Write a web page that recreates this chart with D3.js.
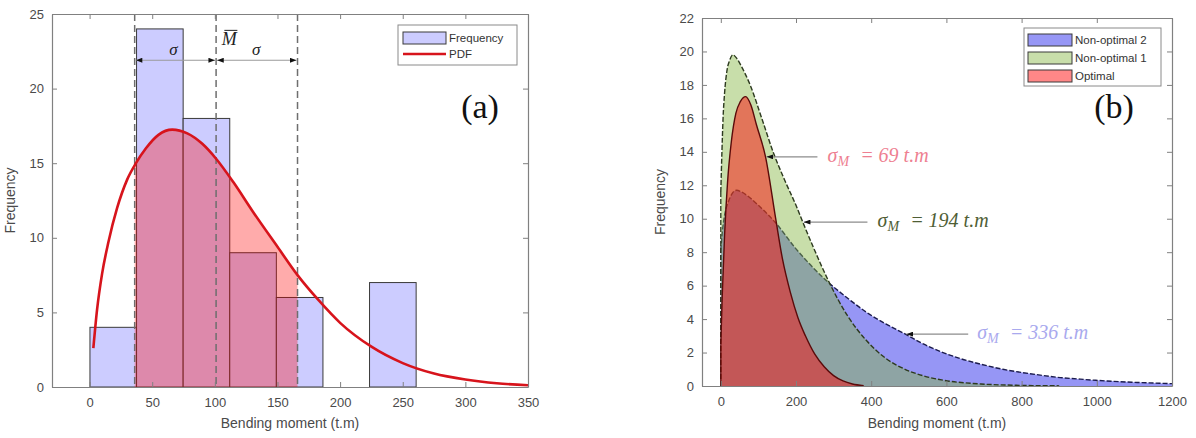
<!DOCTYPE html>
<html>
<head>
<meta charset="utf-8">
<script src="https://cdn.jsdelivr.net/npm/d3@7"></script>
<style>
  body { margin: 0; background: #fff; }
  text { font-family: "Liberation Sans", Arial, sans-serif; }
  text.serif { font-family: "Liberation Serif", "DejaVu Serif", serif; }
  .axis path, .axis line { stroke: #808080; }
  .axis text { fill: #4a4a4a; font-size: 13px; font-family: "Liberation Sans", Arial, sans-serif; }
</style>
</head>
<body>
<svg id="chart" width="1196" height="438"></svg>
<script>
// ---- panel (a): histogram of bending moment + fitted PDF
var binEdges  = [0.3, 37.5, 74.7, 111.9, 149.1, 186.3, 223.5, 260.7];
var binCounts = [4, 24, 18, 9, 6, 0, 7];

var pdfMoment = [3, 6, 10, 15, 22, 30, 37, 45, 55, 66, 78, 90, 101, 115, 130, 150, 166, 183, 200, 225, 250, 275, 300, 325, 350];
var pdfFreq   = [2.6, 5.2, 7.6, 9.7, 12.0, 13.9, 15.0, 16.0, 16.9, 17.25, 17.0, 16.3, 15.3, 13.7, 11.8, 9.4, 7.5, 5.8, 4.3, 2.7, 1.6, 0.9, 0.5, 0.25, 0.12];

var meanMoment  = 101;
var sigmaMoment = 65;

var ticksAx = [0, 50, 100, 150, 200, 250, 300, 350];
var ticksAy = [0, 5, 10, 15, 20, 25];

// ---- panel (b): PDFs of the three designs
var momentNo2 = [0, 4, 10, 20, 30, 42, 55, 75, 100, 144, 200, 276, 340, 388, 440, 491, 540, 591, 640, 692, 750, 794, 850, 895, 950, 997, 1100, 1200];
var freqNo2   = [8.1, 9.2, 10.2, 11.0, 11.5, 11.7, 11.6, 11.3, 10.8, 9.8, 8.2, 6.4, 5.2, 4.4, 3.7, 3.1, 2.5, 2.0, 1.62, 1.3, 1.0, 0.83, 0.65, 0.52, 0.42, 0.34, 0.22, 0.14];

var momentNo1 = [0, 3, 6, 10, 16, 24, 32, 42, 55, 78, 109, 139, 170, 200, 218, 246, 286, 337, 388, 439, 490, 540, 591, 692, 794, 900];
var freqNo1   = [11.6, 14.0, 16.0, 17.5, 18.8, 19.5, 19.8, 19.6, 19.1, 18.0, 16.0, 14.0, 12.3, 10.8, 9.8, 8.3, 6.3, 4.2, 2.7, 1.65, 1.0, 0.6, 0.35, 0.12, 0.04, 0.01];

var momentOpt = [0, 4, 10, 18, 28, 40, 52, 66, 80, 95, 119, 146, 164, 185, 205, 225, 250, 275, 300, 325, 350, 380];
var freqOpt   = [2.5, 5.5, 9.0, 12.2, 14.6, 16.3, 17.0, 17.3, 16.8, 15.6, 13.7, 10.0, 7.6, 5.6, 4.1, 3.0, 1.9, 1.15, 0.62, 0.3, 0.12, 0.02];

var seriesNames  = ["Non-optimal 2", "Non-optimal 1", "Optimal"];
var sigmaValues  = ["336", "194", "69"];
var arrowMoment  = [491, 218, 119];
var arrowFreq    = [3.1, 9.8, 13.7];
var arrowEnd     = [658, 390, 257];
var labelMoment  = [682, 417, 284];

var ticksBx = [0, 200, 400, 600, 800, 1000, 1200];
var ticksBy = [0, 2, 4, 6, 8, 10, 12, 14, 16, 18, 20, 22];

var svg = d3.select("#chart");

var defs = svg.append("defs");
defs.append("marker")
    .attr("id", "head")
    .attr("viewBox", "0 0 8 6")
    .attr("refX", 8).attr("refY", 3)
    .attr("markerWidth", 7).attr("markerHeight", 5)
    .attr("markerUnits", "userSpaceOnUse")
    .attr("orient", "auto-start-reverse")
  .append("path")
    .attr("d", "M0,0 L8,3 L0,6 Z")
    .attr("fill", "#111");

// box axes with inward ticks on all four sides (matlab style)
function drawAxes(g, x, y, xt, yt) {
  var x0 = x.range()[0], x1 = x.range()[1];
  var y0 = y.range()[0], y1 = y.range()[1];
  g.append("g").attr("class", "axis")
      .attr("transform", "translate(0," + y0 + ")")
      .call(d3.axisBottom(x).tickValues(xt).tickFormat(d3.format("d"))
              .tickSizeInner(-5).tickSizeOuter(0).tickPadding(11));
  g.append("g").attr("class", "axis")
      .attr("transform", "translate(0," + y1 + ")")
      .call(d3.axisTop(x).tickValues(xt).tickSizeInner(-5).tickSizeOuter(0).tickFormat(""));
  g.append("g").attr("class", "axis")
      .attr("transform", "translate(" + x0 + ",0)")
      .call(d3.axisLeft(y).tickValues(yt).tickFormat(d3.format("d"))
              .tickSizeInner(-5).tickSizeOuter(0).tickPadding(8));
  g.append("g").attr("class", "axis")
      .attr("transform", "translate(" + x1 + ",0)")
      .call(d3.axisRight(y).tickValues(yt).tickSizeInner(-5).tickSizeOuter(0).tickFormat(""));
  g.selectAll(".axis .domain").attr("stroke-width", 1.2);

  g.append("text")
      .attr("x", (x0 + x1) / 2).attr("y", 428)
      .attr("text-anchor", "middle")
      .attr("font-size", 14).attr("fill", "#4a4a4a")
      .text("Bending moment (t.m)");
  g.append("text")
      .attr("transform", "translate(" + (x0 - 37) + "," + ((y0 + y1) / 2) + ") rotate(-90)")
      .attr("text-anchor", "middle")
      .attr("font-size", 14).attr("fill", "#4a4a4a")
      .text("Frequency");
}

//
// panel (a)
var xA = d3.scaleLinear().domain([-30, 350]).range([52, 528]);
var yA = d3.scaleLinear().domain([0, 25]).range([387, 14]);
var gA = svg.append("g");

var bins = binCounts.map(function(c, i) { return {x0: binEdges[i], x1: binEdges[i + 1], n: c}; })
                    .filter(function(d) { return d.n > 0; });

gA.selectAll(".bar")
  .data(bins)
  .enter().append("rect")
    .attr("class", "bar")
    .attr("x", function(d) { return xA(d.x0); })
    .attr("y", function(d) { return yA(d.n); })
    .attr("width", function(d) { return xA(d.x1) - xA(d.x0); })
    .attr("height", function(d) { return yA(0) - yA(d.n); })
    .attr("fill", "#ccccff")
    .attr("stroke", "#3a3a3a")
    .attr("stroke-width", 1);

var pdfData = pdfMoment.map(function(m, i) { return [m, pdfFreq[i]]; });

// shaded band mean +/- sigma under the pdf
var lo = meanMoment - sigmaMoment, hi = meanMoment + sigmaMoment;
defs.append("clipPath").attr("id", "band")
  .append("rect")
    .attr("x", xA(lo)).attr("y", yA(25))
    .attr("width", xA(hi) - xA(lo)).attr("height", yA(0) - yA(25));

gA.append("path")
    .datum(pdfData)
    .attr("clip-path", "url(#band)")
    .attr("d", d3.area()
        .x(function(d) { return xA(d[0]); })
        .y0(yA(0))
        .y1(function(d) { return yA(d[1]); })
        .curve(d3.curveMonotoneX))
    .attr("fill", "#ff0000")
    .attr("fill-opacity", 0.33);

gA.selectAll(".vline")
  .data([lo, meanMoment, hi])
  .enter().append("line")
    .attr("class", "vline")
    .attr("x1", function(d) { return xA(d); })
    .attr("x2", function(d) { return xA(d); })
    .attr("y1", yA(25)).attr("y2", yA(0))
    .attr("stroke", "#6e6e6e")
    .attr("stroke-width", 1.5)
    .attr("stroke-dasharray", "7,4");

gA.append("path")
    .datum(pdfData)
    .attr("d", d3.line()
        .x(function(d) { return xA(d[0]); })
        .y(function(d) { return yA(d[1]); })
        .curve(d3.curveMonotoneX))
    .attr("fill", "none")
    .attr("stroke", "#d7141c")
    .attr("stroke-width", 2.6);

// sigma arrows
[[lo, meanMoment], [meanMoment, hi]].forEach(function(s) {
  gA.append("line")
      .attr("x1", xA(s[0]) + 1).attr("x2", xA(s[1]) - 1)
      .attr("y1", yA(21.9)).attr("y2", yA(21.9))
      .attr("stroke", "#9a9a9a").attr("stroke-width", 1.2)
      .attr("marker-start", "url(#head)")
      .attr("marker-end", "url(#head)");
});
[67, 133].forEach(function(m) {
  gA.append("text")
      .attr("class", "serif")
      .attr("x", xA(m)).attr("y", yA(22.6))
      .attr("text-anchor", "middle").attr("dominant-baseline", "central")
      .attr("font-style", "italic")
      .attr("font-size", 17).attr("fill", "#222")
      .text("σ");
});
gA.append("text")
    .attr("class", "serif")
    .attr("x", xA(111.6)).attr("y", yA(23.3))
    .attr("text-anchor", "middle").attr("dominant-baseline", "central")
    .attr("font-style", "italic")
    .attr("font-size", 18).attr("fill", "#222")
    .text("M");
gA.append("line")
    .attr("x1", xA(111.6) - 5).attr("x2", xA(111.6) + 8)
    .attr("y1", yA(23.3) - 9).attr("y2", yA(23.3) - 9)
    .attr("stroke", "#222").attr("stroke-width", 1);

gA.append("text")
    .attr("class", "serif")
    .attr("x", 480).attr("y", 106)
    .attr("text-anchor", "middle").attr("dominant-baseline", "central")
    .attr("font-size", 34).attr("fill", "#111")
    .text("(a)");

// legend (a)
var legA = gA.append("g");
legA.append("rect").attr("x", 398).attr("y", 25).attr("width", 119).attr("height", 40)
    .attr("fill", "#fff").attr("stroke", "#8a8a8a");
legA.append("rect").attr("x", 403).attr("y", 32).attr("width", 43).attr("height", 12)
    .attr("fill", "#ccccff").attr("stroke", "#3a3a3a");
legA.append("line").attr("x1", 403).attr("x2", 446).attr("y1", 54).attr("y2", 54)
    .attr("stroke", "#d7141c").attr("stroke-width", 2.6);
legA.selectAll(".lt").data(["Frequency", "PDF"]).enter().append("text")
    .attr("x", 449).attr("y", function(d, i) { return 38 + i * 16; })
    .attr("dominant-baseline", "central")
    .attr("font-size", 11.5).attr("fill", "#333")
    .text(function(d) { return d; });

drawAxes(gA, xA, yA, ticksAx, ticksAy);

//
// panel (b)
var xB = d3.scaleLinear().domain([-50, 1200]).range([702, 1172]);
var yB = d3.scaleLinear().domain([0, 22]).range([386, 18]);
var gB = svg.append("g");

var series = [
  {m: momentNo2, f: freqNo2, fill: "#2d2deb", op: 0.5,  stroke: "#1b1b4d", dash: "5,2"},
  {m: momentNo1, f: freqNo1, fill: "#84b642", op: 0.45, stroke: "#2d3a1f", dash: "5,2"},
  {m: momentOpt, f: freqOpt, fill: "#ff0000", op: 0.47, stroke: "#5a0a0a", dash: null}
];

series.forEach(function(s) {
  var pts = s.m.map(function(m, i) { return [m, s.f[i]]; });
  gB.append("path")
      .datum(pts)
      .attr("d", d3.area()
          .x(function(d) { return xB(d[0]); })
          .y0(yB(0))
          .y1(function(d) { return yB(d[1]); })
          .curve(d3.curveMonotoneX))
      .attr("fill", s.fill)
      .attr("fill-opacity", s.op);
  gB.append("line")
      .attr("x1", xB(pts[0][0])).attr("x2", xB(pts[0][0]))
      .attr("y1", yB(0)).attr("y2", yB(pts[0][1]))
      .attr("stroke", s.stroke).attr("stroke-width", 1.3)
      .attr("stroke-dasharray", s.dash);
  gB.append("path")
      .datum(pts)
      .attr("d", d3.line()
          .x(function(d) { return xB(d[0]); })
          .y(function(d) { return yB(d[1]); })
          .curve(d3.curveMonotoneX))
      .attr("fill", "none")
      .attr("stroke", s.stroke)
      .attr("stroke-width", 1.4)
      .attr("stroke-dasharray", s.dash);
});

// sigma annotations
var labelColors = ["#a9a9ee", "#4f5e35", "#ee7f91"];
sigmaValues.forEach(function(v, i) {
  gB.append("line")
      .attr("x1", xB(arrowEnd[i])).attr("x2", xB(arrowMoment[i]) + 1)
      .attr("y1", yB(arrowFreq[i])).attr("y2", yB(arrowFreq[i]))
      .attr("stroke", "#8c8c8c").attr("stroke-width", 1.3)
      .attr("marker-end", "url(#head)");
  var t = gB.append("text")
      .attr("class", "serif")
      .attr("x", xB(labelMoment[i])).attr("y", yB(arrowFreq[i]) + 5)
      .attr("font-style", "italic")
      .attr("font-size", 20).attr("fill", labelColors[i]);
  t.append("tspan").text("σ");
  t.append("tspan").attr("font-size", 14).attr("dy", 4).text("M");
  t.append("tspan").attr("dx", 11).attr("dy", -4).text("= " + v + " t.m");
});

gB.append("text")
    .attr("class", "serif")
    .attr("x", 1114).attr("y", 106)
    .attr("text-anchor", "middle").attr("dominant-baseline", "central")
    .attr("font-size", 34).attr("fill", "#111")
    .text("(b)");

// legend (b)
var legB = gB.append("g");
legB.append("rect").attr("x", 1024).attr("y", 28).attr("width", 137).attr("height", 58)
    .attr("fill", "#fff").attr("stroke", "#8a8a8a");
seriesNames.forEach(function(name, i) {
  var cy = 40 + i * 18;
  legB.append("rect").attr("x", 1028).attr("y", cy - 6).attr("width", 44).attr("height", 12)
      .attr("fill", series[i].fill).attr("fill-opacity", series[i].op)
      .attr("stroke", "#3a3a3a");
  legB.append("text").attr("x", 1075).attr("y", cy)
      .attr("dominant-baseline", "central")
      .attr("font-size", 11.5).attr("fill", "#333")
      .text(name);
});

drawAxes(gB, xB, yB, ticksBx, ticksBy);
</script>
</body>
</html>
